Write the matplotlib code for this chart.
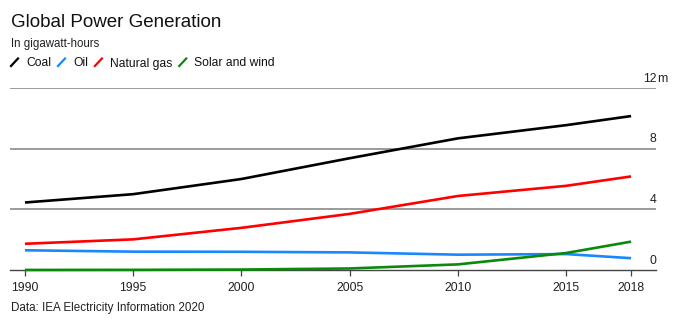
import matplotlib
matplotlib.use("Agg")
import matplotlib.pyplot as plt
from matplotlib.lines import Line2D
import matplotlib.transforms as mtransforms

plt.rcParams['font.family'] = ['Liberation Sans', 'DejaVu Sans']

# data (million GWh)
years = [1990, 1995, 2000, 2005, 2010, 2015, 2018]
coal = [4.45, 5.0, 6.0, 7.37, 8.68, 9.55, 10.15]
oil = [1.30, 1.21, 1.20, 1.16, 1.01, 1.05, 0.78]
gas = [1.73, 2.02, 2.78, 3.70, 4.88, 5.55, 6.17]
solar_wind = [0.004, 0.01, 0.03, 0.10, 0.37, 1.12, 1.87]

series = [
    ('Coal', coal, '#000000'),
    ('Oil', oil, '#1a87ff'),
    ('Natural gas', gas, '#ff0000'),
    ('Solar and wind', solar_wind, '#0a8a0a'),
]
y_ticks = [0, 4, 8, 12]
y_labels = ['0', '4', '8', '12']

W, H = 681, 326
fig = plt.figure(figsize=(W / 100, H / 100), dpi=100)
ax = fig.add_axes([10 / W, 56 / H, 646 / W, 182 / H])

for name, vals, col in series:
    ax.plot(years, vals, color=col, lw=1.9, solid_capstyle='butt',
            clip_on=False, zorder=3)

for v in y_ticks[1:]:
    ax.axhline(v, color='#8a8a8a', lw=1.2, zorder=1)

ax.set_xlim(1989.31, 2019.15)
ax.set_ylim(0, 12)
ax.set_xticks(years)
ax.set_xticklabels([str(y) for y in years], fontsize=8.8, color='#222222')
ax.set_yticks([])
ax.tick_params(axis='x', direction='out', length=4.5, width=0.9,
               color='#444444', pad=4)
for s in ['top', 'left', 'right']:
    ax.spines[s].set_visible(False)
ax.spines['bottom'].set_color('#444444')
ax.spines['bottom'].set_linewidth(1.0)

trans = mtransforms.blended_transform_factory(ax.transAxes, ax.transData)
for v, lab in zip(y_ticks, y_labels):
    ax.annotate(lab, xy=(1.0, v), xycoords=trans, xytext=(0.5, 4.6),
                textcoords='offset points', ha='right', va='baseline',
                fontsize=8.8, color='#222222')
ax.annotate('m', xy=(1.0, y_ticks[-1]), xycoords=trans, xytext=(0.5, 4.6),
            textcoords='offset points', ha='left', va='baseline',
            fontsize=8.8, color='#222222')

# titles
fig.text(11 / W, 1 - 27 / H, 'Global Power Generation', fontsize=13.5,
         color='#111111', va='baseline')
fig.text(11 / W, 1 - 47 / H, 'In gigawatt-hours', fontsize=8.3,
         color='#222222', va='baseline')

# legend
leg_y = 1 - 66.5 / H
x = 11
for name, vals, col in series:
    fig.add_artist(Line2D([x / W, (x + 7) / W],
                          [leg_y + 0.5 / H, leg_y + 8 / H],
                          color=col, lw=1.6, transform=fig.transFigure))
    t = fig.text((x + 15) / W, leg_y, name, fontsize=8.7, color='#111111',
                 va='baseline')
    fig.canvas.draw()
    bb = t.get_window_extent()
    x = bb.x1 + 7

fig.text(11 / W, 1 - 311 / H, 'Data: IEA Electricity Information 2020',
         fontsize=8.4, color='#222222', va='baseline')

fig.savefig('out.png', dpi=100)
